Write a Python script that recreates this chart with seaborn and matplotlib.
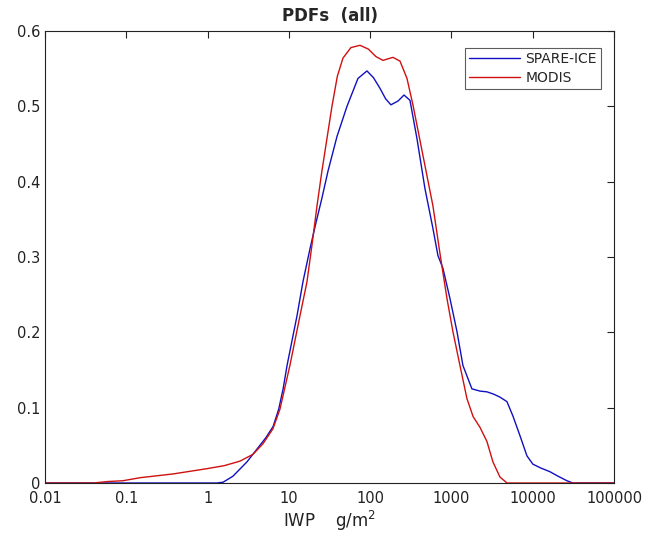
import numpy as np
import pandas as pd
import seaborn as sns
import matplotlib
matplotlib.use("Agg")
import matplotlib.pyplot as plt

# values (x = IWP in g/m^2, y = PDF)
spare_x = [0.01, 0.5, 1.3, 1.55, 2.05, 3.05, 4.05, 5.2, 6.4, 7.5, 8.5, 9.5, 12.6,
           14.9, 18.2, 21.5, 25.5, 30.3, 39.1, 51.9, 70.8, 91.4, 110, 132, 155,
           180, 220, 261, 309, 377, 472, 592, 682, 786, 959, 1170, 1385, 1786,
           2243, 2736, 3300, 3951, 4819, 5704, 6960, 8495, 10050, 12500, 16280,
           20500, 26370, 31200, 100000]
spare_y = [0.0, 0.0, 0.0, 0.001, 0.009, 0.028, 0.045, 0.06, 0.075, 0.098, 0.125,
           0.156, 0.222, 0.267, 0.311, 0.345, 0.378, 0.414, 0.46, 0.50, 0.537,
           0.547, 0.538, 0.524, 0.51, 0.502, 0.507, 0.515, 0.508, 0.457, 0.391,
           0.338, 0.302, 0.285, 0.245, 0.201, 0.156, 0.125, 0.122, 0.121, 0.118,
           0.114, 0.108, 0.089, 0.063, 0.036, 0.025, 0.02, 0.015, 0.009, 0.003,
           0.0, 0.0]

modis_x = [0.01, 0.039, 0.06, 0.091, 0.147, 0.375, 0.98, 1.6, 2.5, 3.61, 4.8,
           6.37, 7.77, 10.3, 13.7, 16.7, 19.2, 22.2, 25.5, 29.4, 33.9, 39.5, 46.3,
           58, 75, 95, 118, 144, 165, 191, 233, 284, 336, 446, 592, 722, 881,
           1043, 1273, 1552, 1850, 2243, 2736, 3240, 3951, 4819, 100000]
modis_y = [0.0, 0.0, 0.002, 0.003, 0.007, 0.012, 0.019, 0.023, 0.029, 0.038,
           0.052, 0.072, 0.098, 0.156, 0.222, 0.267, 0.315, 0.368, 0.414, 0.457,
           0.50, 0.54, 0.564, 0.578, 0.581, 0.576, 0.566, 0.561, 0.563, 0.565,
           0.56, 0.537, 0.502, 0.435, 0.368, 0.305, 0.245, 0.201, 0.156, 0.112,
           0.088, 0.074, 0.055, 0.028, 0.008, 0.0, 0.0]

df = pd.concat([
    pd.DataFrame({"IWP": spare_x, "PDF": spare_y, "src": "SPARE-ICE"}),
    pd.DataFrame({"IWP": modis_x, "PDF": modis_y, "src": "MODIS"}),
])

sns.set_style("white")
plt.rcParams["font.family"] = ["DejaVu Sans"]

fig = plt.figure(figsize=(6.49, 5.38), dpi=100)
ax = fig.add_axes([45 / 649, 55 / 538, 569 / 649, 452 / 538])

sns.lineplot(data=df, x="IWP", y="PDF", hue="src", sort=False,
             palette={"SPARE-ICE": "#1010c0", "MODIS": "#d01010"},
             linewidth=1.0, ax=ax)

ax.set_xscale("log")
ax.set_xlim(0.01, 100000)
ax.set_ylim(0, 0.6)

xt = [0.01, 0.1, 1, 10, 100, 1000, 10000, 100000]
ax.set_xticks(xt)
ax.set_xticklabels(["0.01", "0.1", "1", "10", "100", "1000", "10000", "100000"])
ax.xaxis.set_minor_locator(matplotlib.ticker.NullLocator())
yt = [0, 0.1, 0.2, 0.3, 0.4, 0.5, 0.6]
ax.set_yticks(yt)
ax.set_yticklabels(["0", "0.1", "0.2", "0.3", "0.4", "0.5", "0.6"])

ax.tick_params(direction="in", length=5, width=0.8, top=True, right=True,
               labelsize=10.5, colors="#222222")
ax.tick_params(axis="y", pad=3.5)
ax.tick_params(axis="x", pad=6)
for s in ax.spines.values():
    s.set_color("#222222")
    s.set_linewidth(0.8)

ax.set_xlabel("IWP    g/m$^2$", fontsize=12, color="#222222", labelpad=2)
ax.set_ylabel("")
ax.set_title("PDFs  (all)", fontsize=12, fontweight="bold", pad=7)

leg = ax.legend(loc="upper right", bbox_to_anchor=(0.977, 0.962), borderaxespad=0,
                frameon=True, fancybox=False, edgecolor="#333333", fontsize=10,
                handlelength=3.7, borderpad=0.3, labelspacing=0.35,
                handletextpad=0.35, title=None)
leg.get_frame().set_linewidth(0.8)

fig.savefig("out.png", dpi=100)
